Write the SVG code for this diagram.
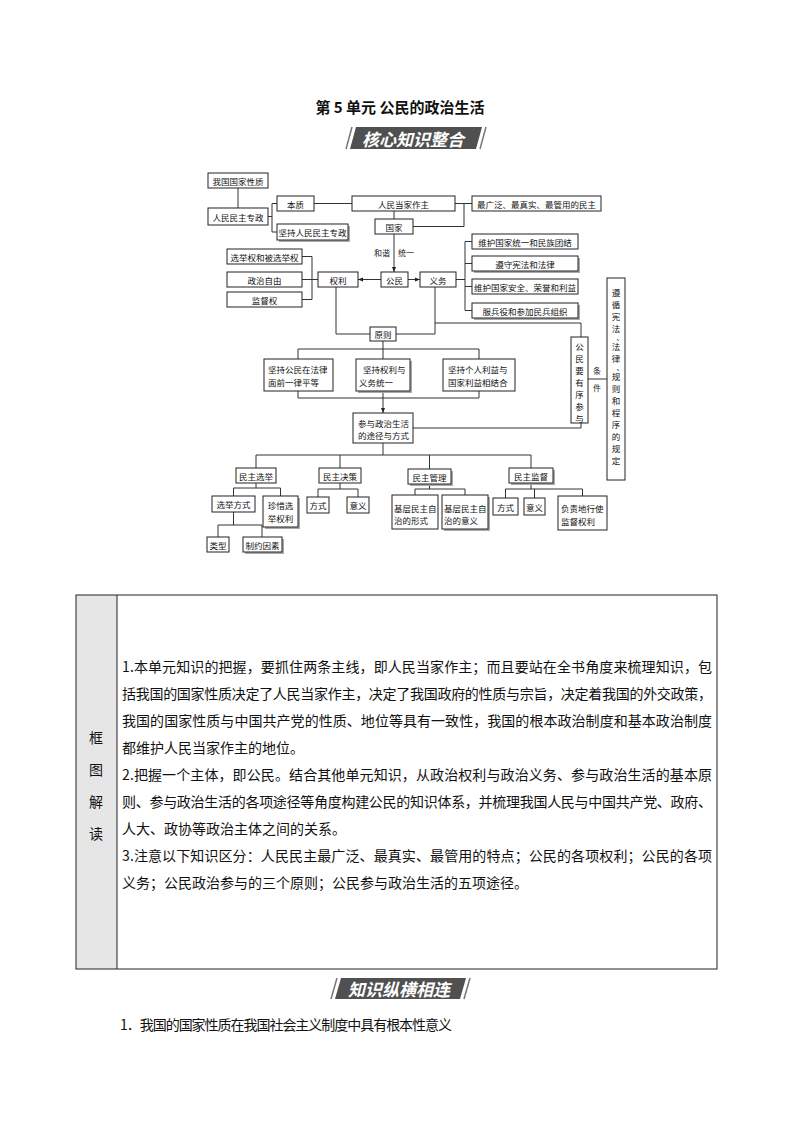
<svg xmlns="http://www.w3.org/2000/svg" width="794" height="1123" viewBox="0 0 794 1123">
<defs>
<style>
.b{fill:#fff;stroke:#222;stroke-width:1}
.sh{fill:#aaa;stroke:none}
.t{font-family:"Noto Sans CJK SC","Noto Sans",sans-serif;font-size:8.5px;fill:#111;text-anchor:middle;dominant-baseline:central}
.tl{font-family:"Noto Sans CJK SC","Noto Sans",sans-serif;font-size:8.5px;fill:#111;dominant-baseline:central}
.s{font-family:"Noto Sans CJK SC","Noto Sans",sans-serif;font-size:8px;fill:#222;text-anchor:middle;dominant-baseline:central}
.c{fill:none;stroke:#333;stroke-width:1}
.p{font-family:"Noto Sans CJK SC","Noto Sans",sans-serif;font-size:14px;fill:#111}
.bn{font-family:"Noto Sans CJK SC","Noto Sans",sans-serif;font-size:17px;font-weight:bold;font-style:italic;fill:#fff;text-anchor:middle;dominant-baseline:central}
</style>
<marker id="ar" viewBox="0 0 10 10" refX="10" refY="5" markerWidth="5" markerHeight="5" orient="auto"><path d="M0,1 L10,5 L0,9 z" fill="#222"/></marker>
</defs>
<rect width="794" height="1123" fill="#fff"/>

<text x="400" y="106" font-family="'Noto Sans CJK SC',sans-serif" font-size="15" font-weight="bold" text-anchor="middle" dominant-baseline="central" fill="#111">第 5 单元 公民的政治生活</text>

<g id="banner1">
<polygon points="356,127 482,127 476,149 350,149" fill="#505050"/>
<line x1="352" y1="127" x2="346" y2="149" stroke="#777" stroke-width="1.5"/>
<line x1="486" y1="127" x2="480" y2="149" stroke="#777" stroke-width="1.5"/>
<text class="bn" x="413" y="138">核心知识整合</text>
</g>

<g id="connectors">
<path class="c" d="M238,188V208"/>
<path class="c" d="M268,216.5H272M277,203.5H272V232H277"/>
<path class="c" d="M314,203.5H352"/>
<path class="c" d="M455,203.5H472M464,203.5V226.5H413"/>
<path class="c" d="M394,211V219"/>
<path class="c" d="M394,234V272" marker-end="url(#ar)"/>
<path class="c" d="M381,279.5H358" marker-end="url(#ar)"/>
<path class="c" d="M408,279.5H420" marker-end="url(#ar)"/>
<path class="c" d="M302,256.5H312V299.5H302M302,279.5H318"/>
<path class="c" d="M472,241.5H465V310.5H472M465,263.5H472M465,286.5H472M456,279.5H465"/>
<path class="c" d="M336,287V334H370"/>
<path class="c" d="M435,287V334H396"/>
<path class="c" d="M435,323H581V337"/>
<path class="c" d="M581,423V428H413"/>
<path class="c" d="M588,379H607"/>
<path class="c" d="M383,341V349M298,349H479M298,349V359M383,349V359M479,349V359"/>
<path class="c" d="M298,391V398M383,391V398M479,391V398M298,398H479"/>
<path class="c" d="M383,398V413" marker-end="url(#ar)"/>
<path class="c" d="M383,443V455M256,455H531M256,455V468M340,455V468M429.5,455V469M531,455V468"/>
<path class="c" d="M256,483V488M233.5,488H280.5M233.5,488V496M280.5,488V496"/>
<path class="c" d="M233.5,512V525M218,525H262M218,525V537M262,525V537"/>
<path class="c" d="M340,483V489M318,489H358M318,489V497M358,489V497"/>
<path class="c" d="M429.5,484V489M415,489H465M415,489V495M465,489V495"/>
<path class="c" d="M531,483V489M505.5,489H582.5M505.5,489V498M534.5,489V498M582.5,489V496"/>
<text class="s" x="382" y="252">和谐</text>
<text class="s" x="406" y="252">统一</text>
<text class="s" x="597" y="370">条</text>
<text class="s" x="597" y="387">件</text>
</g>

<g id="n1"><rect class="b" x="208" y="173" width="60" height="15"/><text class="t" x="238" y="180.5">我国国家性质</text></g>
<g id="n2"><rect class="b" x="208" y="208" width="60" height="17"/><text class="t" x="238" y="216.5">人民民主专政</text></g>
<g id="n3"><rect class="b" x="277" y="196" width="37" height="15"/><text class="t" x="295.5" y="203.5">本质</text></g>
<g id="n4"><rect class="sh" x="279" y="226" width="71" height="16"/><rect class="b" x="277" y="224" width="71" height="16"/><text class="t" x="312.5" y="232">坚持人民民主专政</text></g>
<g id="n5"><rect class="b" x="352" y="196" width="103" height="15"/><text class="t" x="403.5" y="203.5">人民当家作主</text></g>
<g id="n6"><rect class="b" x="472" y="196" width="129" height="15"/><text class="t" x="536.5" y="203.5">最广泛、最真实、最管用的民主</text></g>
<g id="n7"><rect class="b" x="375" y="219" width="38" height="15"/><text class="t" x="394" y="226.5">国家</text></g>
<g id="n8"><rect class="b" x="381" y="272" width="27" height="15"/><text class="t" x="394.5" y="279.5">公民</text></g>
<g id="n9"><rect class="b" x="318" y="272" width="40" height="15"/><text class="t" x="338" y="279.5">权利</text></g>
<g id="n10"><rect class="b" x="420" y="272" width="36" height="15"/><text class="t" x="438" y="279.5">义务</text></g>
<g id="n11"><rect class="b" x="227" y="249" width="75" height="15"/><text class="t" x="264.5" y="256.5">选举权和被选举权</text></g>
<g id="n12"><rect class="b" x="227" y="272" width="75" height="15"/><text class="t" x="264.5" y="279.5">政治自由</text></g>
<g id="n13"><rect class="b" x="227" y="292" width="75" height="15"/><text class="t" x="264.5" y="299.5">监督权</text></g>
<g id="n14"><rect class="b" x="472" y="234" width="106" height="15"/><text class="t" x="525" y="241.5">维护国家统一和民族团结</text></g>
<g id="n15"><rect class="sh" x="474" y="258" width="106" height="15"/><rect class="b" x="472" y="256" width="106" height="15"/><text class="t" x="525" y="263.5">遵守宪法和法律</text></g>
<g id="n16"><rect class="b" x="472" y="279" width="106" height="15"/><text class="t" x="525" y="286.5">维护国家安全、荣誉和利益</text></g>
<g id="n17"><rect class="sh" x="474" y="305" width="106" height="15"/><rect class="b" x="472" y="303" width="106" height="15"/><text class="t" x="525" y="310.5">服兵役和参加民兵组织</text></g>
<g id="n18"><rect class="b" x="370" y="327" width="26" height="14"/><text class="t" x="383" y="334">原则</text></g>
<g id="n19"><rect class="b" x="264" y="359" width="69" height="32"/><text class="tl" x="268" y="369">坚持公民在法律</text><text class="tl" x="268" y="382">面前一律平等</text></g>
<g id="n20"><rect class="sh" x="358" y="361" width="54" height="32"/><rect class="b" x="356" y="359" width="54" height="32"/><text class="tl" x="363" y="369">坚持权利与</text><text class="tl" x="359" y="382">义务统一</text></g>
<g id="n21"><rect class="b" x="443" y="359" width="72" height="32"/><text class="tl" x="448" y="369">坚持个人利益与</text><text class="tl" x="448" y="382">国家利益相结合</text></g>
<g id="n22"><rect class="b" x="353" y="413" width="60" height="30"/><text class="tl" x="358" y="423">参与政治生活</text><text class="tl" x="358" y="435">的途径与方式</text></g>
<g id="n23"><rect class="b" x="571" y="337" width="17" height="86"/>
<text class="t"><tspan x="579.5" y="346">公</tspan><tspan x="579.5" y="358">民</tspan><tspan x="579.5" y="370">要</tspan><tspan x="579.5" y="382">有</tspan><tspan x="579.5" y="394">序</tspan><tspan x="579.5" y="406">参</tspan><tspan x="579.5" y="418">与</tspan></text></g>
<g id="n24"><rect class="b" x="607" y="278" width="18" height="202"/>
<text class="t"><tspan x="616" y="292">遵</tspan><tspan x="616" y="304">循</tspan><tspan x="616" y="316">宪</tspan><tspan x="616" y="328">法</tspan><tspan x="620" y="337" font-size="7">、</tspan><tspan x="616" y="346">法</tspan><tspan x="616" y="358">律</tspan><tspan x="620" y="367" font-size="7">、</tspan><tspan x="616" y="376">规</tspan><tspan x="616" y="388">则</tspan><tspan x="616" y="400">和</tspan><tspan x="616" y="412">程</tspan><tspan x="616" y="424">序</tspan><tspan x="616" y="436">的</tspan><tspan x="616" y="448">规</tspan><tspan x="616" y="460">定</tspan></text></g>
<g id="n25"><rect class="b" x="236" y="468" width="40" height="15"/><text class="t" x="256" y="475.5">民主选举</text></g>
<g id="n26"><rect class="b" x="319" y="468" width="42" height="15"/><text class="t" x="340" y="475.5">民主决策</text></g>
<g id="n27"><rect class="sh" x="410" y="471" width="43" height="15"/><rect class="b" x="408" y="469" width="43" height="15"/><text class="t" x="429.5" y="476.5">民主管理</text></g>
<g id="n28"><rect class="sh" x="511" y="470" width="44" height="15"/><rect class="b" x="509" y="468" width="44" height="15"/><text class="t" x="531" y="475.5">民主监督</text></g>
<g id="n29"><rect class="b" x="212" y="496" width="43" height="16"/><text class="t" x="233.5" y="504">选举方式</text></g>
<g id="n30"><rect class="sh" x="265" y="498" width="35" height="31"/><rect class="b" x="263" y="496" width="35" height="31"/><text class="t" x="280.5" y="505">珍惜选</text><text class="t" x="280.5" y="518">举权利</text></g>
<g id="n31"><rect class="b" x="207" y="537" width="22" height="15"/><text class="t" x="218" y="544.5">类型</text></g>
<g id="n32"><rect class="sh" x="245" y="539" width="39" height="15"/><rect class="b" x="243" y="537" width="39" height="15"/><text class="t" x="262.5" y="544.5">制约因素</text></g>
<g id="n33"><rect class="b" x="307" y="497" width="22" height="16"/><text class="t" x="318" y="505">方式</text></g>
<g id="n34"><rect class="b" x="347" y="497" width="22" height="16"/><text class="t" x="358" y="505">意义</text></g>
<g id="n35"><rect class="b" x="392" y="495" width="46" height="34"/><text class="tl" x="394" y="508">基层民主自</text><text class="tl" x="394" y="520">治的形式</text></g>
<g id="n36"><rect class="sh" x="444" y="497" width="46" height="34"/><rect class="b" x="442" y="495" width="46" height="34"/><text class="tl" x="444" y="508">基层民主自</text><text class="tl" x="444" y="520">治的意义</text></g>
<g id="n37"><rect class="b" x="493" y="498" width="25" height="17"/><text class="t" x="505.5" y="506.5">方式</text></g>
<g id="n38"><rect class="b" x="524" y="498" width="21" height="17"/><text class="t" x="534.5" y="506.5">意义</text></g>
<g id="n39"><rect class="b" x="558" y="496" width="49" height="34"/><text class="tl" x="561" y="508">负责地行使</text><text class="tl" x="561" y="521">监督权利</text></g>

<g id="table">
<rect x="76" y="595" width="41" height="374" fill="#e6e6e6"/>
<rect x="76" y="595" width="641" height="374" fill="none" stroke="#222" stroke-width="1"/>
<line x1="117" y1="595" x2="117" y2="969" stroke="#222" stroke-width="1"/>
<text class="p" x="96" y="743" text-anchor="middle">框</text>
<text class="p" x="96" y="775" text-anchor="middle">图</text>
<text class="p" x="96" y="807" text-anchor="middle">解</text>
<text class="p" x="96" y="839" text-anchor="middle">读</text>
<text class="p" x="122" y="672" textLength="590" lengthAdjust="spacing">1.本单元知识的把握，要抓住两条主线，即人民当家作主；而且要站在全书角度来梳理知识，包</text>
<text class="p" x="122" y="699" textLength="590" lengthAdjust="spacing">括我国的国家性质决定了人民当家作主，决定了我国政府的性质与宗旨，决定着我国的外交政策，</text>
<text class="p" x="122" y="726" textLength="590" lengthAdjust="spacing">我国的国家性质与中国共产党的性质、地位等具有一致性，我国的根本政治制度和基本政治制度</text>
<text class="p" x="122" y="753">都维护人民当家作主的地位。</text>
<text class="p" x="122" y="780" textLength="590" lengthAdjust="spacing">2.把握一个主体，即公民。结合其他单元知识，从政治权利与政治义务、参与政治生活的基本原</text>
<text class="p" x="122" y="807" textLength="590" lengthAdjust="spacing">则、参与政治生活的各项途径等角度构建公民的知识体系，并梳理我国人民与中国共产党、政府、</text>
<text class="p" x="122" y="834">人大、政协等政治主体之间的关系。</text>
<text class="p" x="122" y="861" textLength="590" lengthAdjust="spacing">3.注意以下知识区分：人民民主最广泛、最真实、最管用的特点；公民的各项权利；公民的各项</text>
<text class="p" x="122" y="888">义务；公民政治参与的三个原则；公民参与政治生活的五项途径。</text>
</g>

<g id="banner2">
<polygon points="341,978 466,978 460,999 335,999" fill="#505050"/>
<line x1="337" y1="978" x2="331" y2="999" stroke="#777" stroke-width="1.5"/>
<line x1="470" y1="978" x2="464" y2="999" stroke="#777" stroke-width="1.5"/>
<text class="bn" x="399" y="988.5">知识纵横相连</text>
</g>

<text class="p" x="120" y="1030" textLength="332" lengthAdjust="spacing">1．我国的国家性质在我国社会主义制度中具有根本性意义</text>
</svg>
